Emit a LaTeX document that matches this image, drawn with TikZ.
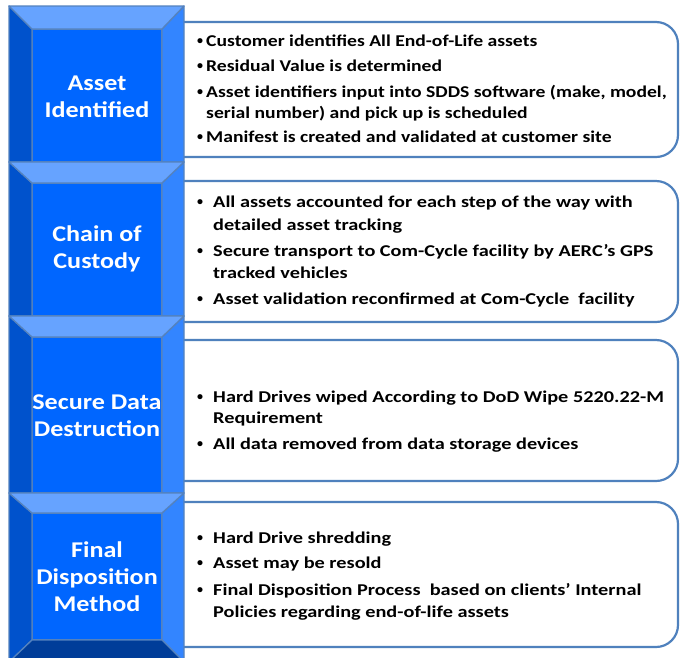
\documentclass[tikz,border=0pt]{standalone}
\usepackage{fontspec}
\setmainfont{Carlito}
\newfontfamily\txtfont{Carlito}[FakeStretch=1.23]
\newfontfamily\onefont{Carlito}[FakeStretch=1.19]
\newfontfamily\lblfont{Carlito}[FakeStretch=1.16]
\definecolor{face}{RGB}{0,102,255}
\definecolor{bevtop}{RGB}{102,163,255}
\definecolor{bevleft}{RGB}{0,82,204}
\definecolor{bevright}{RGB}{51,133,255}
\definecolor{bevbot}{RGB}{0,61,153}
\definecolor{edgeblue}{RGB}{84,130,190}
\definecolor{rimblue}{RGB}{79,129,189}
\newcommand\bevbox[4]{% top, inner top, inner bottom, outer bottom
  \filldraw[bevel, fill=face] (32,#2) rectangle (162,#3);
  \filldraw[bevel, fill=bevleft] (9,#1) -- (32,#2) -- (32,#3) -- (9,#4) -- cycle;
  \filldraw[bevel, fill=bevright] (184,#1) -- (162,#2) -- (162,#3) -- (184,#4) -- cycle;
  \filldraw[bevel, fill=bevtop] (9,#1) -- (184,#1) -- (162,#2) -- (32,#2) -- cycle;
}
\newcommand\tline[4]{\node[txt] (#1) at (#2,#3) {#4};}
\newcommand\tbul[4]{\node[bul] (#1) at (197,#2) {\textbullet};\tline{#1t}{#3}{#2}{#4}}
\newcommand\oline[4]{\node[txt, font=\fontsize{16.5}{20}\selectfont\onefont\bfseries] (#1) at (#2,#3) {#4};}
\newcommand\obul[4]{\node[bul] (#1) at (197,#2) {\textbullet};\oline{#1t}{#3}{#2}{#4}}
\begin{document}
\begin{tikzpicture}[x=1pt,y=-1pt,
  bevel/.style={draw=edgeblue, line width=1.3pt, line join=round},
  panel/.style={draw=rimblue, line width=2.2pt, fill=white, rounded corners=22pt},
  lbl/.style={text=white, font=\fontsize{22.5}{27}\selectfont\lblfont\bfseries, align=center, inner sep=0pt},
  txt/.style={anchor=base west, inner sep=0pt, font=\fontsize{16.5}{20}\selectfont\txtfont\bfseries, text=black},
  bul/.style={anchor=base west, inner sep=0pt, font=\fontsize{12}{14}\selectfont\bfseries, text=black, yshift=1.3pt}]
\useasboundingbox (0,0) rectangle (680,657);
\clip (0,0) rectangle (680,657);
\fill[white] (0,0) rectangle (680,657);
% panels
\path[panel] (150,22) rectangle (678,157);
\path[panel] (150,181) rectangle (678,322);
\path[panel] (150,340) rectangle (678,481);
\path[panel] (150,502) rectangle (678,647);
% column
\bevbox{6}{29}{162}{162}
\bevbox{162}{183}{316}{316}
\bevbox{316}{337}{493}{493}
\bevbox{493}{513}{640}{662}
\filldraw[bevel, fill=bevbot] (9,662) -- (32,640) -- (162,640) -- (184,662) -- cycle;
% labels
\node[lbl] (l1) at (97,97) {Asset\\Identified};
\node[lbl] (l2) at (97,249) {Chain of\\Custody};
\node[lbl] (l3) at (97,416) {Secure Data\\Destruction};
\node[lbl] (l4) at (97,577) {Final\\Disposition\\Method};
% box 1 text
\obul{a1}{46}{206}{Customer identifies All End-of-Life assets}
\obul{a2}{71}{206}{Residual Value is determined}
\obul{a3}{97}{206}{Asset identifiers input into SDDS software (make, model,}
\oline{a3c}{206}{118}{serial number) and pick up is scheduled}
\obul{a4}{142}{206}{Manifest is created and validated at customer site}
% box 2 text
\tbul{b1}{207}{213}{All assets accounted for each step of the way with}
\tline{b1c}{213}{230}{detailed asset tracking}
\tbul{b2}{256}{213}{Secure transport to Com-Cycle facility by AERC’s GPS}
\tline{b2c}{213}{278}{tracked vehicles}
\tbul{b3}{304}{213}{Asset validation reconfirmed at Com-Cycle\ \ facility}
% box 3 text
\tbul{c1}{402}{213}{Hard Drives wiped According to DoD Wipe 5220.22-M}
\tline{c1c}{213}{423}{Requirement}
\tbul{c2}{449}{213}{All data removed from data storage devices}
% box 4 text
\tbul{d1}{543}{213}{Hard Drive shredding}
\tbul{d2}{568}{213}{Asset may be resold}
\tbul{d3}{595}{213}{Final Disposition Process\ \ based on clients’ Internal}
\tline{d3c}{213}{617}{Policies regarding end-of-life assets}
\end{tikzpicture}
\end{document}
